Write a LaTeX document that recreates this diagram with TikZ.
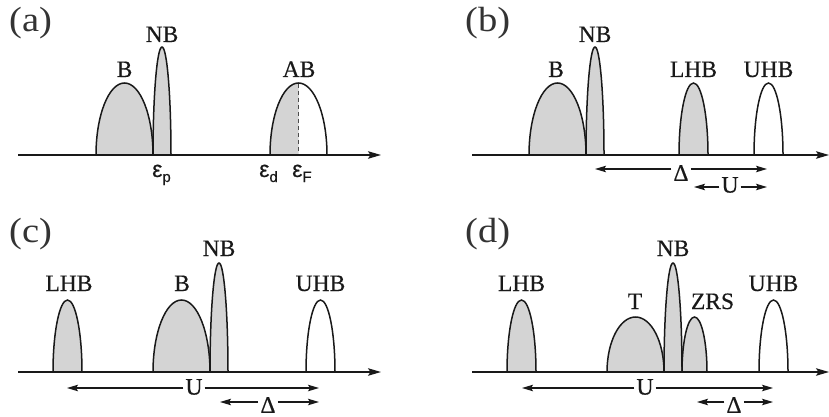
\documentclass[tikz,border=0pt]{standalone}
\usepackage{fontspec}
\setmainfont{Liberation Serif}[FakeStretch=1.1]
\newfontfamily\labfont{Liberation Serif}[FakeBold=0.4]
\newfontfamily\epsfont{Liberation Sans}[FakeBold=0.3]
\usetikzlibrary{arrows.meta}
\definecolor{bandgray}{RGB}{212,212,212}
\definecolor{ink}{RGB}{25,25,25}
\tikzset{
  band/.style={draw=ink, line width=1.5pt, fill=bandgray},
  hole/.style={draw=ink, line width=1.5pt, fill=white},
  axis/.style={draw=ink, line width=1.5pt, -{Stealth[length=13pt,width=7.5pt,inset=2.5pt]}},
  dim/.style={draw=ink, line width=1.2pt, -{Stealth[length=11pt,width=6.5pt,inset=2pt]}},
  lab/.style={font=\labfont\fontsize{23.5}{23.5}\selectfont, inner sep=0pt, anchor=base, text=ink},
  panel/.style={font=\fontsize{35}{35}\selectfont, inner sep=0pt, anchor=base west, text=black!80},
  dl/.style={font=\labfont\fontsize{23.5}{23.5}\selectfont, inner sep=2pt, text=ink},
  eps/.style={font=\epsfont\fontsize{23}{23}\selectfont, inner sep=0pt, anchor=base west, text=ink},
}
\newcommand{\bnd}[5]{\filldraw[#5] (#1,#2) arc[start angle=180,end angle=0,x radius=#3pt,y radius=#4pt] -- cycle;}
\newcommand{\sbs}[1]{\raisebox{-5pt}{\fontsize{15}{15}\selectfont #1}}
\begin{document}
\begin{tikzpicture}[x=1pt,y=-1pt]
\useasboundingbox (0,0) rectangle (829,417);
% ---------------- (a)
\node[panel] (pa) at (9,32) {(a)};
\bnd{96}{155}{28.5}{72}{band}
\bnd{153}{155}{9}{108}{band}
\fill[bandgray] (270,155) arc[start angle=180,end angle=90,x radius=28.5pt,y radius=72pt] -- (298.5,155) -- cycle;
\draw[ink, line width=1.5pt] (270,155) arc[start angle=180,end angle=0,x radius=28.5pt,y radius=72pt];
\draw[black!70, line width=1.2pt, dash pattern=on 4pt off 3pt] (298.5,84) -- (298.5,155);
\coordinate (a0) at (18,155);
\coordinate (a1) at (381,155);
\draw[axis] (a0) -- (a1);
\node[lab] (aB) at (124.5,77) {B};
\node[lab] (aNB) at (162,42) {NB};
\node[lab] (aAB) at (299,77) {AB};
\node[eps] (ep) at (152,177) {ε\sbs{p}};
\node[eps] (ed) at (259,177) {ε\sbs{d}};
\node[eps] (eF) at (292,177) {ε\sbs{F}};
% ---------------- (b)
\node[panel] (pb) at (465,32) {(b)};
\bnd{529}{155}{28.5}{72}{band}
\bnd{586}{155}{9}{108}{band}
\bnd{679}{155}{14.5}{72}{band}
\bnd{754}{155}{14.5}{72}{hole}
\coordinate (b0) at (472,155);
\coordinate (b1) at (829,155);
\draw[axis] (b0) -- (b1);
\node[lab] (bB) at (556,77) {B};
\node[lab] (bNB) at (595,42) {NB};
\node[lab] (bL) at (693.5,77) {LHB};
\node[lab] (bU) at (768.5,77) {UHB};
\node[dl] (bD) at (681,173) {Δ};
\coordinate (bDl) at (595,169);
\coordinate (bDr) at (767,169);
\draw[dim] (bD.west |- bDl) -- (bDl);
\draw[dim] (bD.east |- bDr) -- (bDr);
\node[dl] (bUU) at (730,185) {U};
\coordinate (bUl) at (694,187);
\coordinate (bUr) at (767,187);
\draw[dim] (bUU.west |- bUl) -- (bUl);
\draw[dim] (bUU.east |- bUr) -- (bUr);
% ---------------- (c)
\node[panel] (pc) at (9,242) {(c)};
\bnd{53}{372}{14.5}{72}{band}
\bnd{153}{372}{28.5}{72}{band}
\bnd{210}{372}{9}{109}{band}
\bnd{306}{372}{14.5}{72}{hole}
\coordinate (c0) at (18,372);
\coordinate (c1) at (381,372);
\draw[axis] (c0) -- (c1);
\node[lab] (cL) at (69,291) {LHB};
\node[lab] (cB) at (182,291) {B};
\node[lab] (cNB) at (219,256) {NB};
\node[lab] (cU) at (320.5,291) {UHB};
\node[dl] (cUU) at (194,387) {U};
\coordinate (cUl) at (67,388);
\coordinate (cUr) at (319,388);
\draw[dim] (cUU.west |- cUl) -- (cUl);
\draw[dim] (cUU.east |- cUr) -- (cUr);
\node[dl] (cD) at (268,405) {Δ};
\coordinate (cDl) at (220,402);
\coordinate (cDr) at (319,402);
\draw[dim] (cD.west |- cDl) -- (cDl);
\draw[dim] (cD.east |- cDr) -- (cDr);
% ---------------- (d)
\node[panel] (pd) at (465,242) {(d)};
\bnd{507}{372}{14.5}{72}{band}
\bnd{607}{372}{28.5}{55}{band}
\bnd{664}{372}{9}{109}{band}
\bnd{682}{372}{12.5}{55}{band}
\bnd{759}{372}{14.5}{72}{hole}
\coordinate (d0) at (472,372);
\coordinate (d1) at (829,372);
\draw[axis] (d0) -- (d1);
\node[lab] (dL) at (521.5,291) {LHB};
\node[lab] (dT) at (635,309) {T};
\node[lab] (dNB) at (673,256) {NB};
\node[lab] (dZ) at (712.5,309) {ZRS};
\node[lab] (dU) at (773.5,291) {UHB};
\node[dl] (dUU) at (645,387) {U};
\coordinate (dUl) at (522,388);
\coordinate (dUr) at (773,388);
\draw[dim] (dUU.west |- dUl) -- (dUl);
\draw[dim] (dUU.east |- dUr) -- (dUr);
\node[dl] (dD) at (734,405) {Δ};
\coordinate (dDl) at (697,402);
\coordinate (dDr) at (773,402);
\draw[dim] (dD.west |- dDl) -- (dDl);
\draw[dim] (dD.east |- dDr) -- (dDr);
\end{tikzpicture}
\end{document}
